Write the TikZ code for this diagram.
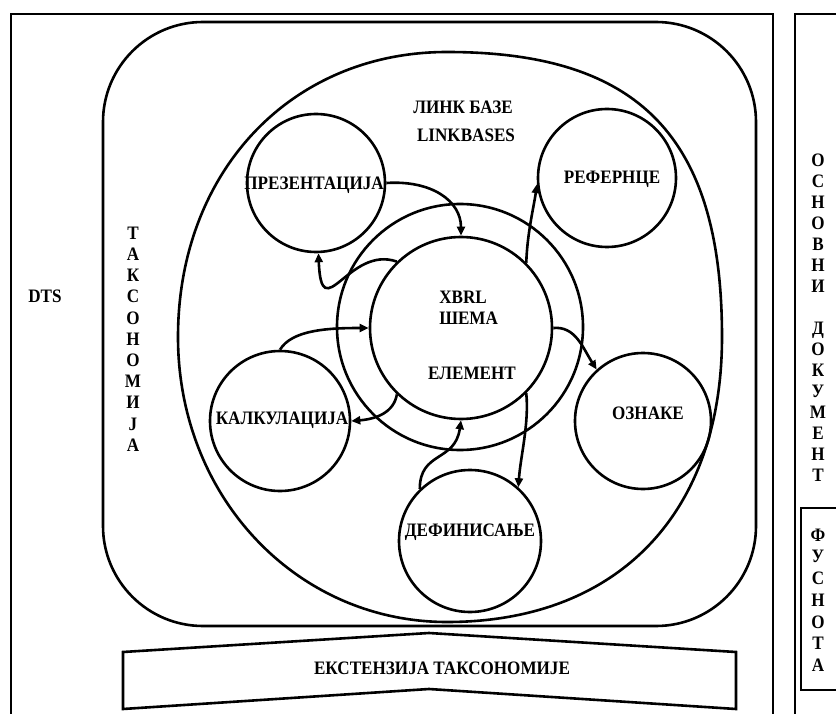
\documentclass[tikz,border=0pt]{standalone}
\usepackage{fontspec}
\setmainfont[FakeStretch=0.9]{Liberation Serif}
\usetikzlibrary{arrows.meta}

\begin{document}
\begin{tikzpicture}[x=1pt,y=-1pt,line width=2.6pt,line join=miter,
  lbl/.style={font=\bfseries\fontsize{19}{21}\selectfont,inner sep=0pt,
              text height=12.5pt,text depth=0pt},
  circ/.style={draw,circle,inner sep=0pt},
  conn/.style={-{Triangle[length=9pt,width=8pt]},line width=2.6pt}]

\useasboundingbox (0,0) rectangle (836,714);
\clip (0,0) rectangle (836,714);

% outer frames
\draw (11,720) -- (11,14) -- (773,14) -- (773,720);
\draw (795,720) -- (795,14) -- (842,14);
\draw (842,508) -- (801,508) -- (801,690) -- (842,690);

% taxonomy box
\draw[rounded corners=100pt] (103,22) rectangle (756,626);

% linkbase oval, built from four quarter arcs
\draw (447,52) .. controls (639.5,52) and (722,137.5) .. (722,337)
      .. controls (722,513.7) and (617.5,622) .. (447,622)
      .. controls (296.4,622) and (178,496.6) .. (178,337)
      .. controls (178,171.7) and (291,52) .. (447,52) -- cycle;

% extension banner
\draw (123,652) -- (429,633) -- (736,652) -- (736,709) -- (429,689) -- (123,709) -- cycle;
\node[lbl] (ext) at (442,668) {ЕКСТЕНЗИЈА ТАКСОНОМИЈЕ};

% schema rings
\node[circ,minimum size=246pt] (ring) at (460,327) {};
\node[circ,minimum size=182pt] (xbrl) at (461,328) {};

% linkbase circles
\node[circ,minimum size=138pt] (prez) at (316,183) {};
\node[circ,minimum size=138pt] (refer) at (607,178) {};
\node[circ,minimum size=140pt] (kalk) at (280,421) {};
\node[circ,minimum size=136pt] (ozn) at (643,421) {};
\node[circ,minimum size=142pt] (defin) at (470,541) {};

% labels
\node[lbl] (dts) at (45,296) {DTS};
\node[lbl] (lb1) at (463,107) {ЛИНК БАЗЕ};
\node[lbl] (lb2) at (466,135) {LINKBASES};
\node[lbl] (tprez) at (314,183) {ПРЕЗЕНТАЦИЈА};
\node[lbl] (trefer) at (612,177) {РЕФЕРНЦЕ};
\node[lbl] (tozn) at (648,413) {ОЗНАКЕ};
\node[lbl] (tkalk) at (282,418) {КАЛКУЛАЦИЈА};
\node[lbl] (tdefin) at (470,530) {ДЕФИНИСАЊЕ};
\node[lbl,anchor=west] (txbrl) at (438,297) {XBRL};
\node[lbl,anchor=west] (tshema) at (438,318) {ШЕМА};
\node[lbl] (telem) at (472,373) {ЕЛЕМЕНТ};

% vertical captions
\foreach \c [count=\i] in {Т,А,К,С,О,Н,О,М,И,Ј,А}
  \node[lbl] (tax\i) at (133,{233+21.2*(\i-1)}) {\c};
\foreach \c [count=\i] in {О,С,Н,О,В,Н,И}
  \node[lbl] (osn\i) at (818,{160+21*(\i-1)}) {\c};
\foreach \c [count=\i] in {Д,О,К,У,М,Е,Н,Т}
  \node[lbl] (dok\i) at (818,{328+21.1*(\i-1)}) {\c};
\foreach \c [count=\i] in {Ф,У,С,Н,О,Т,А}
  \node[lbl] (fus\i) at (818,{535+21.7*(\i-1)}) {\c};

% connectors between the schema and the linkbases
\draw[conn] (prez.0) .. controls +(45,-3) and +(0,-35) .. (xbrl.90);
\draw[conn] (xbrl.134) .. controls +(-48,-17) and +(3,76) .. (prez.272);
\draw[conn] (kalk.90) .. controls +(12,-20) and +(-40,0) .. (xbrl.180);
\draw[conn] (xbrl.226) .. controls +(-3,18) and +(25,-2) .. (kalk.0);
\draw[conn] (defin.134) .. controls +(0,-38) and +(-6,42) .. (xbrl.270);
\draw[conn] (xbrl.315) .. controls +(3,30) and +(2,-30) .. (defin.48);
\draw[conn] (xbrl.0) .. controls +(22,-2) and +(-14,-22) .. (ozn.132);
\draw[conn] (xbrl.45) .. controls +(1,-30) and +(-3,22) .. (refer.185);
\end{tikzpicture}
\end{document}
